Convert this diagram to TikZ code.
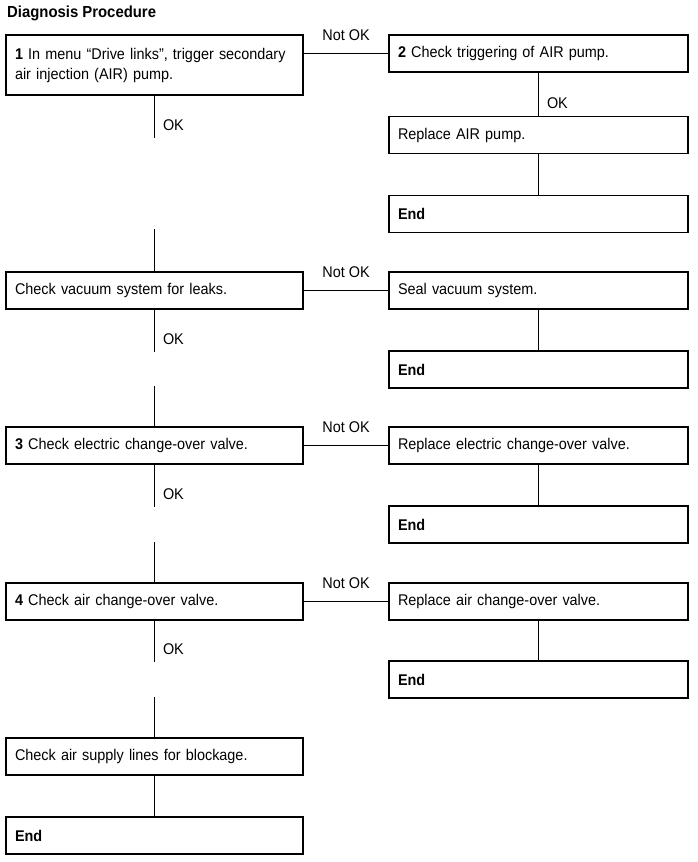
\documentclass[tikz,border=0pt]{standalone}
\usepackage{fontspec}
\setmainfont{Liberation Sans}[FakeStretch=0.93]
\begin{document}
\begin{tikzpicture}[x=1pt,y=-1pt,
  every node/.style={font=\fontsize{15.5}{20}\selectfont},
  box/.style={draw, line width=1.1pt, inner xsep=9pt, inner ysep=0pt, align=left, minimum height=37pt},
  lbox/.style={box, text width=279pt},
  rbox/.style={box, text width=281pt},
  conn/.style={line width=1pt},
  lab/.style={inner sep=0pt},
  nok/.style={lab, anchor=base, yshift=13pt},
  ok/.style={lab, pos=0.7, right=8pt},
]
\useasboundingbox (0,0) rectangle (697,862);
\node[anchor=west, inner sep=0pt, font=\fontsize{16}{20}\selectfont\bfseries] (title) at (7,13) {Diagnosis Procedure};

\node[lbox, minimum height=60pt] (b1) at (154.5,65) {\textbf{1} In menu “Drive links”, trigger secondary\\air injection (AIR) pump.};
\node[rbox] (b2) at (538.5,53.5) {\textbf{2} Check triggering of AIR pump.};
\node[rbox] (r1) at (538.5,135) {Replace AIR pump.};
\node[rbox] (e1) at (538.5,214) {\textbf{End}};
\node[lbox] (v) at (154.5,290.5) {Check vacuum system for leaks.};
\node[rbox] (s) at (538.5,290.5) {Seal vacuum system.};
\node[rbox] (e2) at (538.5,369.5) {\textbf{End}};
\node[lbox] (b3) at (154.5,445.5) {\textbf{3} Check electric change-over valve.};
\node[rbox] (r3) at (538.5,445.5) {Replace electric change-over valve.};
\node[rbox] (e3) at (538.5,524.5) {\textbf{End}};
\node[lbox] (b4) at (154.5,601.5) {\textbf{4} Check air change-over valve.};
\node[rbox] (r4) at (538.5,601.5) {Replace air change-over valve.};
\node[rbox] (e4) at (538.5,679.5) {\textbf{End}};
\node[lbox] (sup) at (154.5,756.5) {Check air supply lines for blockage.};
\node[lbox] (e5) at (154.5,835.5) {\textbf{End}};

\coordinate (k1a) at ([yshift=-42pt]b1.south);
\coordinate (k1b) at ([yshift=42pt]v.north);
\coordinate (k2a) at ([yshift=-42pt]v.south);
\coordinate (k2b) at ([yshift=40pt]b3.north);
\coordinate (k3a) at ([yshift=-42pt]b3.south);
\coordinate (k3b) at ([yshift=40pt]b4.north);
\coordinate (k4a) at ([yshift=-41pt]b4.south);
\coordinate (k4b) at ([yshift=40pt]sup.north);

\draw[conn] (b1.east |- b2.west) -- node[nok]{Not OK} (b2.west);
\draw[conn] (v.east) -- node[nok]{Not OK} (s.west);
\draw[conn] (b3.east) -- node[nok]{Not OK} (r3.west);
\draw[conn] (b4.east) -- node[nok]{Not OK} (r4.west);

\draw[conn] (b2.south) -- node[ok]{OK} (r1.north);
\draw[conn] (r1.south) -- (e1.north);
\draw[conn] (s.south) -- (e2.north);
\draw[conn] (r3.south) -- (e3.north);
\draw[conn] (r4.south) -- (e4.north);

\draw[conn] (b1.south) -- node[ok]{OK} (k1a);
\draw[conn] (k1b) -- (v.north);
\draw[conn] (v.south) -- node[ok]{OK} (k2a);
\draw[conn] (k2b) -- (b3.north);
\draw[conn] (b3.south) -- node[ok]{OK} (k3a);
\draw[conn] (k3b) -- (b4.north);
\draw[conn] (b4.south) -- node[ok]{OK} (k4a);
\draw[conn] (k4b) -- (sup.north);
\draw[conn] (sup.south) -- (e5.north);
\end{tikzpicture}
\end{document}
